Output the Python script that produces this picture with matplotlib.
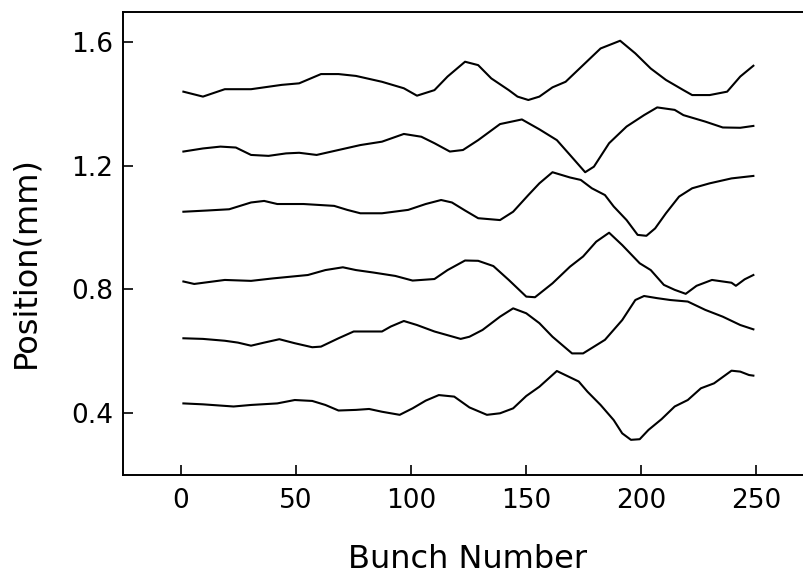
import matplotlib
matplotlib.use("Agg")
import matplotlib.pyplot as plt

plt.rcParams['font.family'] = ['DejaVu Sans']

# Bunch number samples and positions (mm) for the six traces (top to bottom)
x1 = [1.0, 9.5, 19.0, 30.4, 43.7, 51.3, 60.8, 68.4, 76.0, 87.3, 96.8, 102.5, 110.1, 115.8,
      123.4, 129.1, 134.8, 142.4, 146.2, 150.9, 155.7, 161.4, 167.1, 174.7, 182.3, 190.8,
      197.4, 204.1, 210.7, 218.3, 222.1, 229.7, 237.3, 243.0, 248.7]
y1 = [1.440, 1.424, 1.448, 1.448, 1.462, 1.467, 1.497, 1.497, 1.491, 1.472, 1.451, 1.427,
      1.445, 1.489, 1.537, 1.526, 1.483, 1.445, 1.424, 1.413, 1.424, 1.454, 1.472, 1.526,
      1.580, 1.605, 1.564, 1.515, 1.478, 1.445, 1.429, 1.429, 1.440, 1.489, 1.524]

x2 = [1.0, 9.5, 17.1, 23.8, 30.4, 38.0, 45.6, 51.3, 58.9, 68.4, 77.9, 87.3, 96.8, 104.4,
      110.1, 116.8, 122.5, 129.1, 138.6, 148.1, 155.7, 163.3, 169.0, 175.6, 179.4, 186.0,
      193.6, 201.2, 206.9, 214.5, 218.3, 227.8, 235.4, 243.0, 248.7]
y2 = [1.246, 1.256, 1.262, 1.259, 1.235, 1.232, 1.240, 1.242, 1.235, 1.251, 1.267, 1.278,
      1.303, 1.294, 1.273, 1.246, 1.251, 1.283, 1.335, 1.350, 1.318, 1.283, 1.235, 1.179,
      1.197, 1.273, 1.327, 1.364, 1.389, 1.381, 1.364, 1.343, 1.324, 1.323, 1.329]

x3 = [1.0, 11.4, 20.9, 30.4, 36.1, 41.8, 53.2, 66.5, 72.2, 77.9, 87.3, 98.7, 106.3, 113.0,
      117.7, 123.4, 129.1, 138.6, 144.3, 150.9, 155.7, 161.4, 169.0, 173.7, 178.5, 184.2,
      188.0, 193.6, 198.4, 202.2, 206.0, 210.7, 216.4, 222.1, 229.7, 239.2, 248.7]
y3 = [1.051, 1.055, 1.059, 1.081, 1.086, 1.076, 1.076, 1.070, 1.057, 1.046, 1.046, 1.057,
      1.076, 1.089, 1.081, 1.055, 1.030, 1.024, 1.051, 1.105, 1.143, 1.179, 1.162, 1.154,
      1.127, 1.105, 1.068, 1.024, 0.976, 0.973, 0.997, 1.046, 1.100, 1.127, 1.143, 1.159,
      1.167]

x4 = [1.0, 5.7, 19.0, 30.4, 39.9, 55.1, 62.7, 70.3, 76.0, 83.6, 93.1, 100.6, 110.1, 115.8,
      123.4, 129.1, 135.7, 142.4, 150.0, 153.8, 161.4, 169.0, 174.7, 180.4, 186.0, 191.7,
      199.3, 204.1, 209.8, 214.5, 219.3, 224.0, 230.7, 235.4, 239.2, 241.1, 244.9, 248.7]
y4 = [0.825, 0.817, 0.830, 0.827, 0.835, 0.846, 0.862, 0.871, 0.862, 0.854, 0.843, 0.828,
      0.833, 0.862, 0.893, 0.892, 0.875, 0.830, 0.776, 0.774, 0.819, 0.873, 0.906, 0.954,
      0.983, 0.943, 0.884, 0.862, 0.814, 0.798, 0.785, 0.811, 0.830, 0.825, 0.821, 0.811,
      0.832, 0.846]

x5 = [1.0, 9.5, 19.0, 24.7, 30.4, 36.1, 42.7, 49.4, 57.0, 60.8, 68.4, 75.0, 87.3, 91.1,
      96.8, 102.5, 110.1, 121.5, 125.3, 131.0, 138.6, 144.3, 150.0, 155.7, 161.4, 169.9,
      174.7, 184.2, 191.7, 197.4, 201.2, 206.9, 212.6, 220.2, 227.8, 235.4, 243.0, 248.7]
y5 = [0.641, 0.639, 0.633, 0.627, 0.617, 0.627, 0.638, 0.625, 0.612, 0.614, 0.641, 0.663,
      0.663, 0.679, 0.697, 0.684, 0.663, 0.639, 0.646, 0.668, 0.711, 0.738, 0.722, 0.690,
      0.646, 0.592, 0.592, 0.636, 0.700, 0.765, 0.778, 0.771, 0.765, 0.760, 0.733, 0.711,
      0.684, 0.670]

x6 = [1.0, 9.5, 22.8, 30.4, 41.8, 49.4, 57.0, 62.7, 68.4, 76.0, 81.7, 87.3, 95.0, 100.6,
      106.3, 112.0, 118.7, 125.3, 132.9, 138.6, 144.3, 150.0, 155.7, 163.3, 172.8, 176.6,
      182.3, 188.0, 191.7, 195.5, 199.3, 203.1, 208.8, 214.5, 220.2, 225.9, 231.6, 239.2,
      243.0, 246.8, 248.7]
y6 = [0.430, 0.427, 0.420, 0.425, 0.430, 0.441, 0.438, 0.425, 0.407, 0.409, 0.412, 0.403,
      0.393, 0.414, 0.439, 0.457, 0.452, 0.417, 0.393, 0.398, 0.414, 0.454, 0.484, 0.535,
      0.501, 0.468, 0.425, 0.376, 0.333, 0.312, 0.314, 0.344, 0.379, 0.420, 0.441, 0.479,
      0.495, 0.536, 0.533, 0.522, 0.520]

xticks = [0, 50, 100, 150, 200, 250]
yticks = [0.4, 0.8, 1.2, 1.6]
ytick_labels = ["0.4", "0.8", "1.2", "1.6"]

fig = plt.figure(figsize=(8.04, 5.73), dpi=100)
ax = fig.add_axes([0.1534, 0.171, 0.8466, 0.808])

for xs, ys in [(x1, y1), (x2, y2), (x3, y3), (x4, y4), (x5, y5), (x6, y6)]:
    ax.plot(xs, ys, color='black', linewidth=1.5, solid_joinstyle='round')

ax.set_xlim(-25.1, 270.7)
ax.set_ylim(0.198, 1.698)
ax.set_xticks(xticks)
ax.set_yticks(yticks)
ax.set_yticklabels(ytick_labels)
ax.tick_params(direction='in', length=7.5, width=1.2, labelsize=19)
ax.tick_params(axis='x', pad=9)
ax.tick_params(axis='y', pad=7)
ax.spines['right'].set_visible(False)
for s in ['left', 'bottom', 'top']:
    ax.spines[s].set_linewidth(1.4)

ax.set_xlabel('Bunch Number', fontsize=23)
ax.set_ylabel('Position(mm)', fontsize=23)
ax.xaxis.set_label_coords(0.506, -0.148)
ax.yaxis.set_label_coords(-0.12, 0.46)

fig.savefig('out.png', dpi=100)
